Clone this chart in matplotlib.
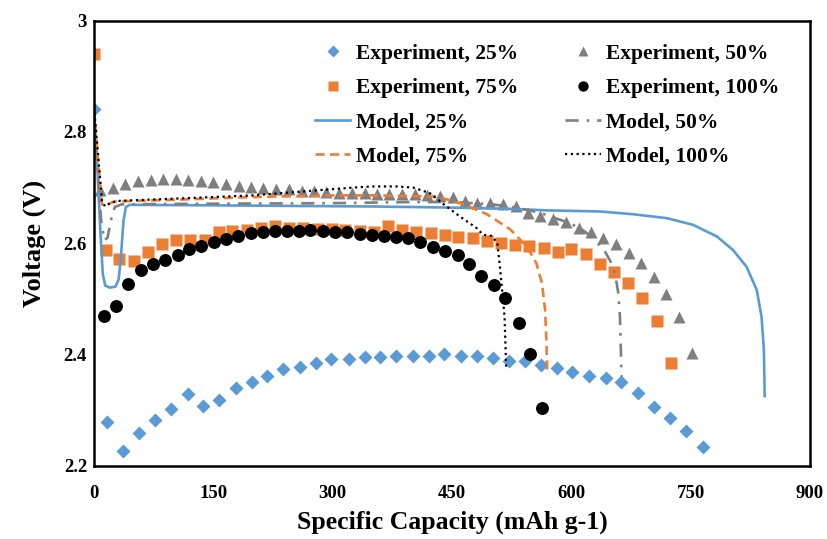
import matplotlib
matplotlib.use('Agg')
import matplotlib.pyplot as plt

plt.rcParams['font.family'] = ['Liberation Serif', 'DejaVu Serif']
plt.rcParams['font.weight'] = 'bold'

# Experiment, 25% (blue diamonds)
exp25_x = [0, 16, 37, 57, 77, 97, 118, 137, 157, 178, 198, 218, 238, 259, 279, 298,
           320, 340, 360, 380, 401, 421, 440, 461, 481, 501, 522, 542, 562, 582, 601,
           622, 643, 663, 684, 704, 724, 744, 765]
exp25_v = [2.841, 2.279, 2.226, 2.259, 2.282, 2.302, 2.329, 2.307, 2.319, 2.340, 2.351,
           2.362, 2.374, 2.377, 2.384, 2.391, 2.391, 2.396, 2.396, 2.397, 2.397, 2.397,
           2.401, 2.397, 2.397, 2.394, 2.389, 2.388, 2.381, 2.375, 2.369, 2.361, 2.357,
           2.350, 2.330, 2.305, 2.285, 2.263, 2.233]

# Experiment, 50% (grey triangles)
exp50_x = [8, 24, 39, 55, 71, 87, 103, 118, 134, 150, 166, 182, 197, 213, 229, 245,
           261, 277, 292, 308, 324, 340, 356, 371, 387, 403, 419, 435, 451, 466, 482,
           498, 514, 530, 545, 561, 577, 593, 609, 625, 640, 656, 672, 688, 704, 719,
           735, 751]
exp50_v = [2.696, 2.699, 2.706, 2.711, 2.713, 2.715, 2.715, 2.713, 2.711, 2.710, 2.706,
           2.702, 2.701, 2.699, 2.697, 2.697, 2.694, 2.693, 2.692, 2.691, 2.690, 2.690,
           2.689, 2.688, 2.688, 2.688, 2.687, 2.685, 2.683, 2.675, 2.673, 2.673, 2.670,
           2.666, 2.655, 2.648, 2.643, 2.639, 2.627, 2.621, 2.609, 2.598, 2.583, 2.564,
           2.539, 2.509, 2.467, 2.402]

# Experiment, 75% (orange squares)
exp75_x = [0, 15, 32, 50, 68, 86, 103, 121, 139, 157, 174, 192, 210, 228, 245, 263,
           281, 299, 316, 334, 352, 370, 387, 405, 423, 441, 458, 476, 494, 512, 529,
           547, 565, 583, 600, 618, 636, 654, 671, 689, 707, 725]
exp75_v = [2.941, 2.587, 2.572, 2.568, 2.585, 2.598, 2.605, 2.605, 2.606, 2.621, 2.622,
           2.624, 2.627, 2.631, 2.627, 2.627, 2.626, 2.626, 2.624, 2.622, 2.620, 2.631,
           2.624, 2.621, 2.618, 2.615, 2.611, 2.609, 2.604, 2.600, 2.597, 2.595, 2.591,
           2.585, 2.589, 2.580, 2.563, 2.548, 2.529, 2.502, 2.461, 2.384]

# Experiment, 100% (black circles)
exp100_x = [12, 28, 43, 59, 74, 89, 105, 120, 135, 151, 166, 181, 197, 212, 227, 243,
            258, 272, 288, 303, 318, 334, 349, 364, 380, 395, 410, 426, 441, 457, 471,
            487, 503, 517, 534, 548, 563]
exp100_v = [2.469, 2.487, 2.527, 2.551, 2.563, 2.569, 2.579, 2.589, 2.595, 2.602, 2.607,
            2.613, 2.618, 2.621, 2.622, 2.622, 2.622, 2.624, 2.622, 2.621, 2.621, 2.617,
            2.615, 2.613, 2.612, 2.609, 2.603, 2.594, 2.586, 2.578, 2.562, 2.541, 2.525,
            2.501, 2.457, 2.401, 2.303]

# Model, 25% (blue solid)
mod25_x = [0, 4, 8, 11, 14, 20, 27, 31, 34, 37, 40, 45, 150, 250, 350, 450, 520, 570,
           636, 678, 720, 753, 783, 803, 820, 833, 839, 842, 843]
mod25_v = [2.84, 2.74, 2.62, 2.545, 2.524, 2.520, 2.522, 2.535, 2.58, 2.64, 2.665, 2.669,
           2.668, 2.667, 2.666, 2.664, 2.662, 2.659, 2.657, 2.652, 2.645, 2.633, 2.612,
           2.588, 2.558, 2.516, 2.468, 2.408, 2.325]

# Model, 50% (grey dash-dot)
mod50_x = [0, 5, 9, 13, 17, 21, 26, 35, 150, 300, 400, 450, 500, 530, 560, 590, 610,
           625, 641, 650, 655, 659, 661, 662, 663]
mod50_v = [2.83, 2.72, 2.64, 2.605, 2.61, 2.64, 2.665, 2.670, 2.671, 2.672, 2.674, 2.674,
           2.670, 2.664, 2.655, 2.640, 2.628, 2.612, 2.588, 2.565, 2.545, 2.51, 2.47,
           2.42, 2.36]

# Model, 75% (orange dashed)
mod75_x = [0, 5, 10, 15, 25, 100, 200, 300, 350, 431, 464, 494, 523, 544, 556, 563,
           567, 569, 569.5]
mod75_v = [2.84, 2.75, 2.67, 2.668, 2.675, 2.678, 2.683, 2.686, 2.686, 2.684, 2.670,
           2.652, 2.625, 2.594, 2.564, 2.528, 2.48, 2.41, 2.363]

# Model, 100% (black dotted)
mod100_x = [0, 5, 10, 14, 20, 30, 100, 200, 280, 326, 350, 380, 401, 422, 443, 460,
            481, 489, 500, 507, 510, 513, 516, 518]
mod100_v = [2.845, 2.76, 2.675, 2.666, 2.672, 2.676, 2.680, 2.686, 2.695, 2.700, 2.702,
            2.702, 2.700, 2.690, 2.666, 2.648, 2.627, 2.615, 2.613, 2.60, 2.56, 2.515,
            2.468, 2.378]

blue = '#5B9BD5'
orange = '#ED7D31'
grey = '#7F7F7F'

fig = plt.figure(figsize=(8.27, 5.39), dpi=100)
ax = fig.add_axes([0.1137, 0.136, 0.8658, 0.8256])

h1, = ax.plot(exp25_x, exp25_v, 'D', color=blue, ms=7.2, mec='none', label='Experiment, 25%')
h2, = ax.plot(exp50_x, exp50_v, '^', color=grey, ms=9.2, mec='none', label='Experiment, 50%')
h3, = ax.plot(exp75_x, exp75_v, 's', color=orange, ms=8.8, mec='none', label='Experiment, 75%')
h4, = ax.plot(exp100_x, exp100_v, 'o', color='black', ms=9.3, mec='none', label='Experiment, 100%')
h5, = ax.plot(mod25_x, mod25_v, '-', color=blue, lw=1.9, label='Model, 25%')
h6, = ax.plot(mod50_x, mod50_v, color=grey, lw=1.9, ls=(0, (5, 3, 1, 3)), label='Model, 50%')
h7, = ax.plot(mod75_x, mod75_v, color=orange, lw=1.9, ls=(0, (3.5, 2)), label='Model, 75%')
h8, = ax.plot(mod100_x, mod100_v, color='black', lw=1.6, ls=(0, (1, 1.6)), label='Model, 100%')

ax.set_xlim(0, 900)
ax.set_ylim(2.2, 3.0)
ax.set_xticks([0, 150, 300, 450, 600, 750, 900])
ax.set_yticks([2.2, 2.4, 2.6, 2.8, 3.0])
ax.set_yticklabels(['2.2', '2.4', '2.6', '2.8', '3'])
ax.tick_params(length=0, labelsize=13.5)
ax.tick_params(axis='x', pad=14)
ax.tick_params(axis='y', pad=5)
for s in ax.spines.values():
    s.set_linewidth(1.8)
    s.set_color('black')

ax.set_xlabel('Specific Capacity (mAh g-1)', fontsize=18.5, fontweight='bold', labelpad=6)
ax.set_ylabel('Voltage (V)', fontsize=19, fontweight='bold', labelpad=13)

ax.legend(handles=[h1, h3, h5, h7, h2, h4, h6, h8], ncol=2, loc='upper left',
          bbox_to_anchor=(0.276, 1.0), frameon=False, fontsize=15.5,
          handlelength=1.65, handletextpad=0.25, columnspacing=2.2,
          labelspacing=0.66, markerscale=0.8, borderaxespad=0.68)

fig.savefig('out.png', dpi=100)
